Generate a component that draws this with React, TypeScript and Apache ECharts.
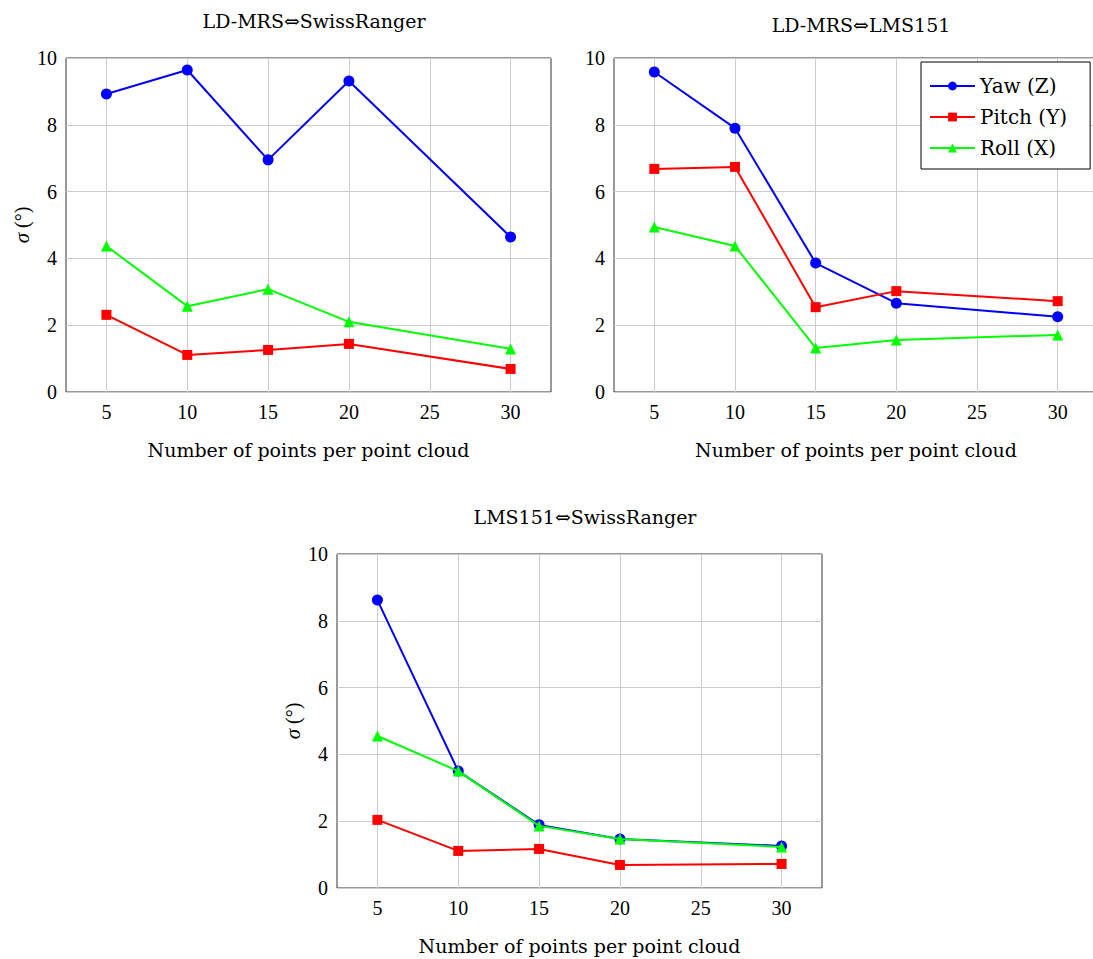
import React, { useEffect, useRef } from 'react';
import * as echarts from 'echarts';

const xValues = [5, 10, 15, 20, 30];
const xTicks = [5, 10, 15, 20, 25, 30];
const titles = ['LD-MRS⇔SwissRanger', 'LD-MRS⇔LMS151', 'LMS151⇔SwissRanger'];
const seriesNames = ['Yaw (Z)', 'Pitch (Y)', 'Roll (X)'];
const xAxisName = 'Number of points per point cloud';

// Panel 1: LD-MRS <-> SwissRanger
const yaw1 = [8.92, 9.64, 6.95, 9.31, 4.64];
const pitch1 = [2.31, 1.11, 1.26, 1.44, 0.69];
const roll1 = [4.37, 2.57, 3.08, 2.1, 1.29];

// Panel 2: LD-MRS <-> LMS151
const yaw2 = [9.58, 7.9, 3.86, 2.66, 2.25];
const pitch2 = [6.68, 6.74, 2.54, 3.02, 2.72];
const roll2 = [4.94, 4.37, 1.32, 1.56, 1.71];

// Panel 3: LMS151 <-> SwissRanger
const yaw3 = [8.62, 3.5, 1.89, 1.47, 1.26];
const pitch3 = [2.04, 1.11, 1.17, 0.69, 0.72];
const roll3 = [4.55, 3.5, 1.86, 1.47, 1.23];

const panels = [
  [yaw1, pitch1, roll1],
  [yaw2, pitch2, roll2],
  [yaw3, pitch3, roll3],
];

const colors = ['#0000ff', '#ff0000', '#00ff00'];
const symbols = ['circle', 'rect', 'triangle'];
const symbolSizes = [11, 10, 11];

const FONT = 'Liberation Serif';
const TFONT = 'DejaVu Serif';

const gridBoxes = [
  { left: 66, top: 58, width: 485, height: 334 },
  { left: 614, top: 58, width: 484, height: 334 },
  { left: 337, top: 554, width: 485, height: 334 },
];

export default function App() {
  const ref = useRef<HTMLDivElement>(null);
  useEffect(() => {
    if (!ref.current) return;
    const chart = echarts.init(ref.current, undefined, { renderer: 'svg' });
    const grids = gridBoxes.map((g) => ({
      ...g,
      show: true,
      borderColor: '#333',
      borderWidth: 1,
      backgroundColor: 'transparent',
    }));
    const xAxes = gridBoxes.map((_, i) => ({
      type: 'value',
      gridIndex: i,
      min: 2.5,
      max: 32.5,
      name: xAxisName,
      nameLocation: 'middle',
      nameGap: 48,
      nameTextStyle: { fontFamily: TFONT, fontSize: 19, color: '#000' },
      axisLine: { show: false },
      axisTick: { show: false, customValues: xTicks },
      axisLabel: {
        customValues: xTicks,
        fontFamily: FONT,
        fontSize: 20,
        color: '#000',
        margin: 10,
      },
      splitLine: { show: true, lineStyle: { color: '#cccccc', width: 1 } },
    }));
    const yAxes = gridBoxes.map((_, i) => ({
      type: 'value',
      gridIndex: i,
      min: 0,
      max: 10,
      interval: 2,
      name: i === 1 ? '' : '{i|σ} (°)',
      nameLocation: 'middle',
      nameGap: 34,
      nameRotate: 90,
      nameTextStyle: {
        fontFamily: FONT,
        fontSize: 20,
        color: '#000',
        rich: { i: { fontFamily: FONT, fontSize: 21, fontStyle: 'italic', color: '#000' } },
      },
      axisLine: { show: false },
      axisTick: { show: false },
      axisLabel: { fontFamily: FONT, fontSize: 20, color: '#000', margin: 9 },
      splitLine: { show: true, lineStyle: { color: '#cccccc', width: 1 } },
    }));
    const series: any[] = [];
    panels.forEach((p, gi) => {
      p.forEach((vals, si) => {
        series.push({
          type: 'line',
          name: seriesNames[si],
          xAxisIndex: gi,
          yAxisIndex: gi,
          data: xValues.map((x, k) => [x, vals[k]]),
          symbol: symbols[si],
          symbolSize: symbolSizes[si],
          lineStyle: { color: colors[si], width: 2 },
          itemStyle: { color: colors[si] },
          z: 3 + (si === 2 ? 1 : 0),
        });
      });
    });
    chart.setOption({
      animation: false,
      backgroundColor: '#fff',
      title: [
        { text: titles[0], left: 309, top: 6, textAlign: 'center' },
        { text: titles[1], left: 856, top: 10, textAlign: 'center' },
        { text: titles[2], left: 580, top: 502, textAlign: 'center' },
      ].map((t) => ({
        ...t,
        textStyle: { fontFamily: TFONT, fontSize: 19, fontWeight: 'normal', color: '#000' },
      })),
      legend: {
        data: seriesNames,
        orient: 'vertical',
        left: 921,
        top: 62,
        padding: [14, 23, 11, 8],
        itemGap: 11,
        itemWidth: 45,
        itemHeight: 11,
        borderColor: '#000',
        borderWidth: 1,
        backgroundColor: '#fff',
        textStyle: { fontFamily: TFONT, fontSize: 20, color: '#000' },
      },
      grid: grids,
      xAxis: xAxes,
      yAxis: yAxes,
      series,
    });
    return () => chart.dispose();
  }, []);
  return (
    <div style={{ position: 'absolute', left: 0, top: 0, width: 1093, height: 959, overflow: 'hidden', background: '#fff' }}>
      <div ref={ref} style={{ width: 1100, height: 959 }} />
    </div>
  );
}
